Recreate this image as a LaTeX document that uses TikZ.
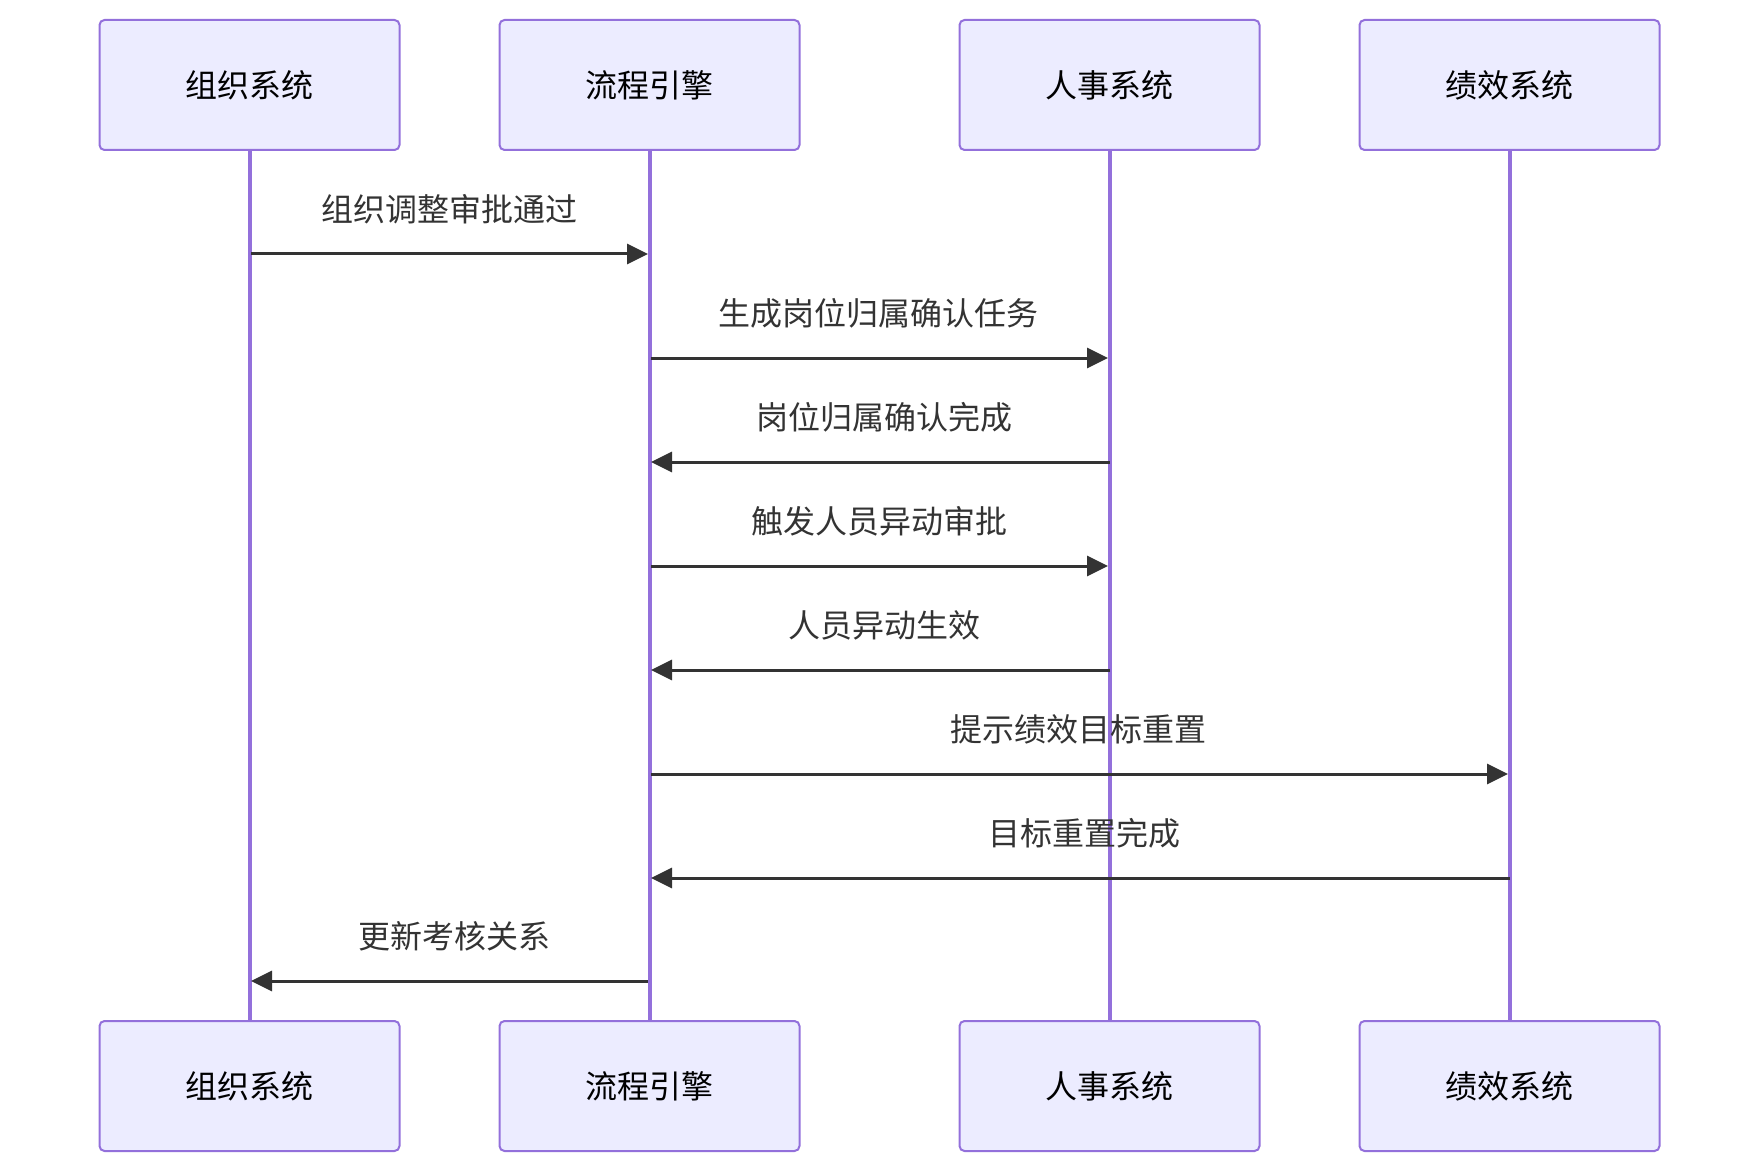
\documentclass[tikz,border=0pt]{standalone}
\usepackage{fontspec}
\setmainfont{Noto Sans CJK SC}
\usetikzlibrary{arrows.meta}
\definecolor{actfill}{HTML}{ECECFF}
\definecolor{actline}{HTML}{9370DB}
\definecolor{msgc}{HTML}{333333}
\begin{document}
\begin{tikzpicture}[x=1pt,y=-1pt,
  actor/.style={draw=actline,fill=actfill,line width=2pt,rounded corners=5pt,minimum width=300pt,minimum height=130pt,inner sep=0pt,font=\fontsize{32}{38}\selectfont,text=black},
  life/.style={draw=actline,line width=4pt},
  msg/.style={draw=msgc,line width=3pt,-{Triangle[length=21pt,width=20pt]}},
  lbl/.style={font=\fontsize{32}{38}\selectfont,text=msgc,inner sep=0pt}]
\useasboundingbox (0,0) rectangle (1760,1174);
% lifelines first
\coordinate (l1t) at (249.5,150); \coordinate (l1b) at (249.5,1021);
\coordinate (l2t) at (649.5,150); \coordinate (l2b) at (649.5,1021);
\coordinate (l3t) at (1109.5,150); \coordinate (l3b) at (1109.5,1021);
\coordinate (l4t) at (1509.5,150); \coordinate (l4b) at (1509.5,1021);
\draw[life] (l1t) -- (l1b);
\draw[life] (l2t) -- (l2b);
\draw[life] (l3t) -- (l3b);
\draw[life] (l4t) -- (l4b);
% actors
\node[actor] (a1) at (249.5,85) {组织系统};
\node[actor] (a2) at (649.5,85) {流程引擎};
\node[actor] (a3) at (1109.5,85) {人事系统};
\node[actor] (a4) at (1509.5,85) {绩效系统};
\node[actor] (b1) at (249.5,1086) {组织系统};
\node[actor] (b2) at (649.5,1086) {流程引擎};
\node[actor] (b3) at (1109.5,1086) {人事系统};
\node[actor] (b4) at (1509.5,1086) {绩效系统};
% message endpoints
\foreach \i/\y in {1/254,2/358,3/462,4/566,5/670,6/774,7/878,8/981}{
  \coordinate (p1\i) at (251,\y);
  \coordinate (p2\i) at (651,\y);
  \coordinate (q2\i) at (648,\y);
  \coordinate (p3\i) at (1108,\y);
  \coordinate (s3\i) at (1110,\y);
  \coordinate (p4\i) at (1508,\y);
  \coordinate (s4\i) at (1510,\y);
}
\draw[msg] (p11) -- (q21);
\draw[msg] (p22) -- (p32);
\draw[msg] (s33) -- (p23);
\draw[msg] (p24) -- (p34);
\draw[msg] (s35) -- (p25);
\draw[msg] (p26) -- (p46);
\draw[msg] (s47) -- (p27);
\draw[msg] (q28) -- (p18);
% labels
\node[lbl] (t1) at (449.5,209) {组织调整审批通过};
\node[lbl] (t2) at (878.5,313) {生成岗位归属确认任务};
\node[lbl] (t3) at (884.5,417) {岗位归属确认完成};
\node[lbl] (t4) at (879.5,521) {触发人员异动审批};
\node[lbl] (t5) at (884.5,625) {人员异动生效};
\node[lbl] (t6) at (1078.5,729) {提示绩效目标重置};
\node[lbl] (t7) at (1084.5,833) {目标重置完成};
\node[lbl] (t8) at (454,936) {更新考核关系};
\end{tikzpicture}
\end{document}
